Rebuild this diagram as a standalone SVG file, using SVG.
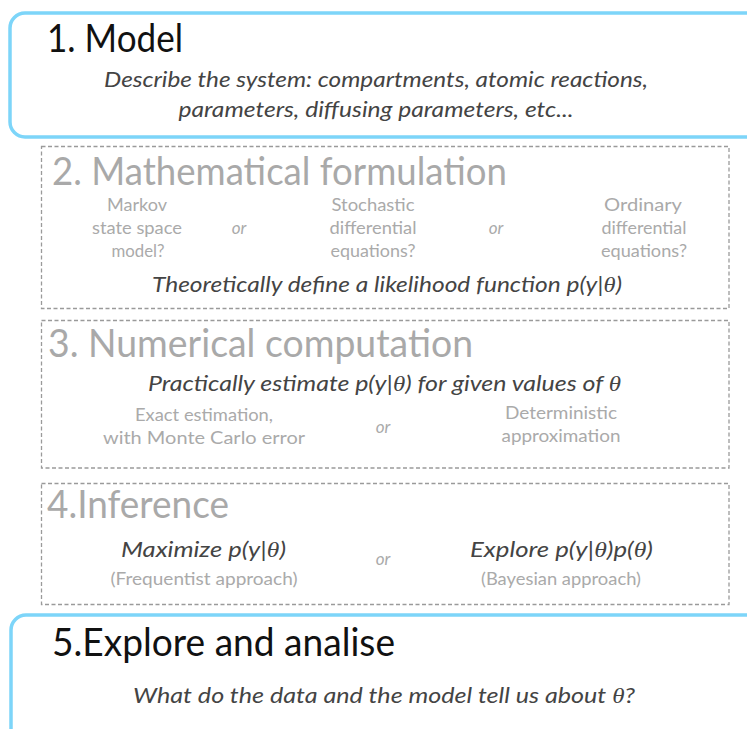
<svg xmlns="http://www.w3.org/2000/svg" width="747" height="729" viewBox="0 0 747 729">
<style>
text{font-family:Lato,"Open Sans","Liberation Sans",sans-serif}
.blue{fill:#fff;stroke:#7dd5f9;stroke-width:3.5}
.dash{fill:none;stroke:#9a9a9a;stroke-width:1.3;stroke-dasharray:4 2.5}
.h1{font-size:38px;fill:#111}
.h2{font-size:38px;fill:#a9a9a9}
.desc{font-size:22px;font-style:italic;fill:#444}
.sub{font-size:18px;fill:#aaa;text-anchor:middle}
.or{font-size:17px;font-style:italic;fill:#aaa;text-anchor:middle}
.th{font-family:"Liberation Serif",serif;font-style:italic}
</style>
<rect width="747" height="729" fill="#fff"/>
<g id="model">
<rect class="blue" x="10" y="13" width="770" height="124" rx="15"/>
<text class="h1" x="47" y="52" textLength="136" lengthAdjust="spacingAndGlyphs">1. Model</text>
<text class="desc" x="376" y="87" text-anchor="middle" textLength="544" lengthAdjust="spacingAndGlyphs">Describe the system: compartments, atomic reactions,</text>
<text class="desc" x="376" y="117" text-anchor="middle" textLength="395" lengthAdjust="spacingAndGlyphs">parameters, diffusing parameters, etc...</text>
</g>
<g id="formulation">
<rect class="dash" x="41.5" y="146.5" width="687.5" height="162"/>
<text class="h2" x="52" y="185" textLength="455" lengthAdjust="spacingAndGlyphs">2. Mathematical formulation</text>
<text class="sub" x="137" y="211" textLength="60" lengthAdjust="spacingAndGlyphs">Markov</text>
<text class="sub" x="137" y="234" textLength="90" lengthAdjust="spacingAndGlyphs">state space</text>
<text class="sub" x="138" y="257" textLength="53" lengthAdjust="spacingAndGlyphs">model?</text>
<text class="or" x="239" y="234">or</text>
<text class="sub" x="373" y="211" textLength="83" lengthAdjust="spacingAndGlyphs">Stochastic</text>
<text class="sub" x="373" y="234" textLength="87" lengthAdjust="spacingAndGlyphs">differential</text>
<text class="sub" x="373" y="257" textLength="85" lengthAdjust="spacingAndGlyphs">equations?</text>
<text class="or" x="496" y="234">or</text>
<text class="sub" x="643" y="211" textLength="78" lengthAdjust="spacingAndGlyphs">Ordinary</text>
<text class="sub" x="644" y="234" textLength="85" lengthAdjust="spacingAndGlyphs">differential</text>
<text class="sub" x="644" y="257" textLength="86" lengthAdjust="spacingAndGlyphs">equations?</text>
<text class="desc" x="152" y="292" textLength="470" lengthAdjust="spacingAndGlyphs">Theoretically define a likelihood function p(y|<tspan class="th">θ</tspan>)</text>
</g>
<g id="computation">
<rect class="dash" x="41.5" y="320.5" width="687.5" height="147.5"/>
<text class="h2" x="48" y="357" textLength="425" lengthAdjust="spacingAndGlyphs">3. Numerical computation</text>
<text class="desc" x="148" y="391" textLength="473" lengthAdjust="spacingAndGlyphs">Practically estimate p(y|<tspan class="th">θ</tspan>) for given values of <tspan class="th">θ</tspan></text>
<text class="sub" x="204" y="421" textLength="138" lengthAdjust="spacingAndGlyphs">Exact estimation,</text>
<text class="sub" x="204" y="444" textLength="202" lengthAdjust="spacingAndGlyphs">with Monte Carlo  error</text>
<text class="or" x="383" y="433">or</text>
<text class="sub" x="561" y="419" textLength="112" lengthAdjust="spacingAndGlyphs">Deterministic</text>
<text class="sub" x="561" y="442" textLength="119" lengthAdjust="spacingAndGlyphs">approximation</text>
</g>
<g id="inference">
<rect class="dash" x="41.5" y="483.5" width="687.5" height="121"/>
<text class="h2" x="47" y="518" textLength="182" lengthAdjust="spacingAndGlyphs">4.Inference</text>
<text class="desc" x="121" y="557" textLength="165" lengthAdjust="spacingAndGlyphs">Maximize p(y|<tspan class="th">θ</tspan>)</text>
<text class="sub" x="204" y="585" textLength="187" lengthAdjust="spacingAndGlyphs">(Frequentist approach)</text>
<text class="or" x="383" y="565">or</text>
<text class="desc" x="470" y="557" textLength="183" lengthAdjust="spacingAndGlyphs">Explore p(y|<tspan class="th">θ</tspan>)p(<tspan class="th">θ</tspan>)</text>
<text class="sub" x="561" y="585" textLength="160" lengthAdjust="spacingAndGlyphs">(Bayesian approach)</text>
</g>
<g id="explore">
<rect class="blue" x="11" y="615" width="770" height="140" rx="15"/>
<text class="h1" x="52" y="656" textLength="343" lengthAdjust="spacingAndGlyphs">5.Explore and analise</text>
<text class="desc" x="133" y="703" textLength="502" lengthAdjust="spacingAndGlyphs">What do the data and the model tell us about <tspan class="th">θ</tspan>?</text>
</g>
<g id="connectors"/>
</svg>
